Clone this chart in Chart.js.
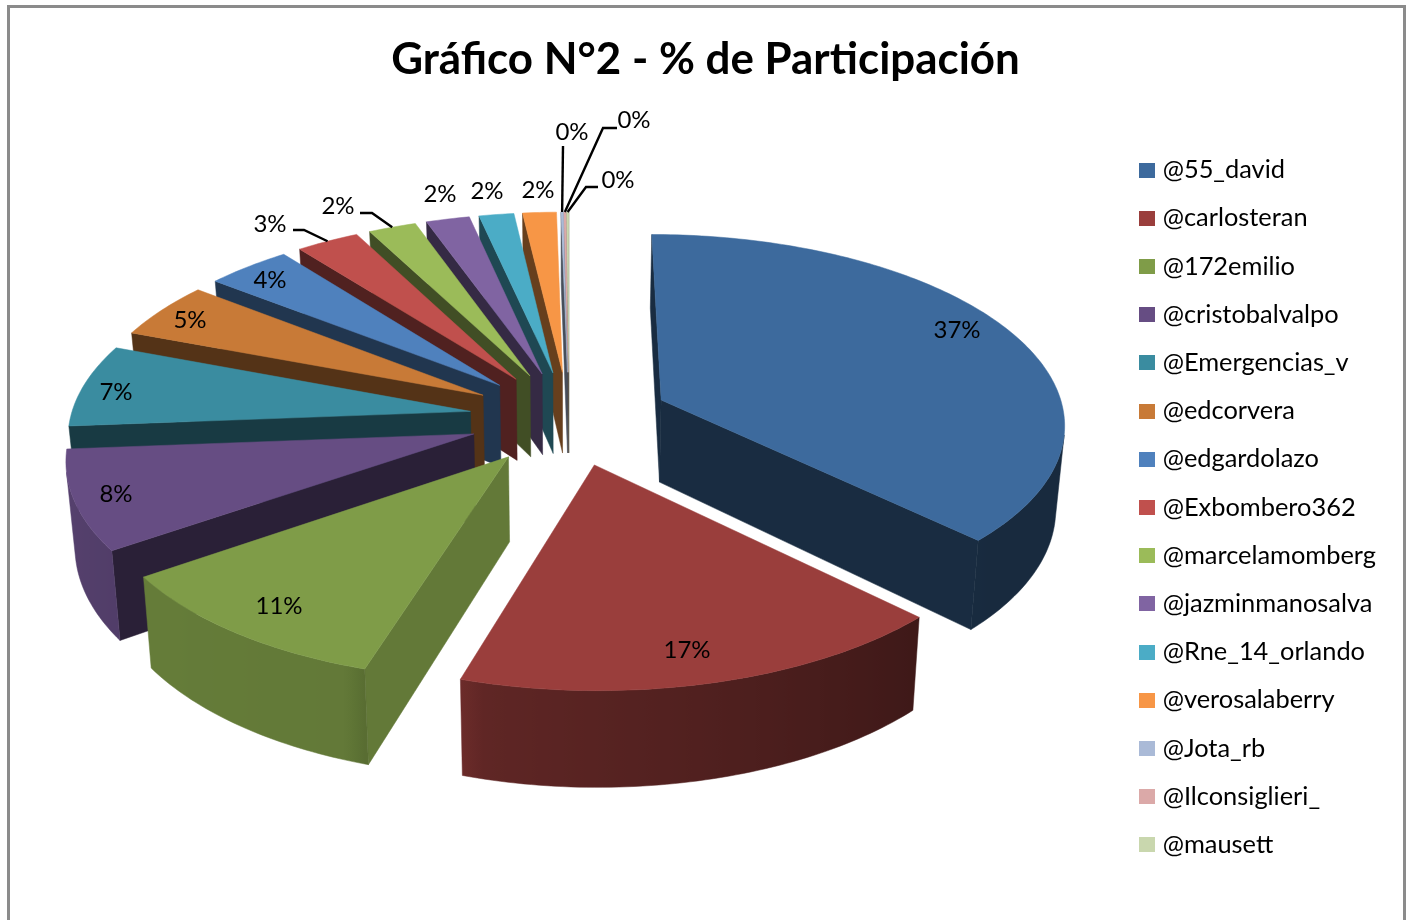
<!DOCTYPE html>
<html><head><meta charset="utf-8">
<style>html,body{margin:0;padding:0;background:#fff;overflow:hidden}canvas{display:block}</style>
<script src="https://cdn.jsdelivr.net/npm/chart.js@4"></script>
</head><body><canvas id="c" width="1410" height="920"></canvas>
<script>
const categories = ['@55_david','@carlosteran','@172emilio','@cristobalvalpo','@Emergencias_v','@edcorvera','@edgardolazo','@Exbombero362','@marcelamomberg','@jazminmanosalva','@Rne_14_orlando','@verosalaberry','@Jota_rb','@Ilconsiglieri_','@mausett'];
const shares = [37.4,17.4,10.6,8.4,7,4.8,3.9,2.9,2.2,2,1.6,1.55,0.1,0.1,0.1];
const colours = ['#3D6A9D','#9A3E3C','#7F9C48','#664D83','#3A8CA0','#C87A37','#4F81BD','#C0504D','#9BBB59','#8064A2','#4BACC6','#F79646','#AABAD7','#DBA9A8','#C9D7AE'];
const labelCentres = [[957,330],[687,650],[279,606],[116,494],[116,392],[190,320],[270,280],[270,224],[338,206],[440,194],[487,191],[538,190],[572,132],[634,120],[618,180]];
const leaders = {7:[[293,230],[304,230]],8:[[360,213],[372,213]],12:[[563,146]],13:[[617,128],[603,128]],14:[[598,187],[586,187]]};

const V = {cx:569, cy:418, a:404, left:0.99, b:188.3, c:0.1142, e:0.25, depth:83, shrink:0.982};
const project = (u,v,low) => {
  const w = 1 + V.c*v;
  let x = V.cx + (u<0?V.left:1)*V.a*u/w, y = V.cy - V.b*v/w;
  if (low) { x = V.cx + (x-V.cx)*V.shrink; y += V.depth/w; }
  return [x,y];
};
const knots = [[0,.4],[133,.4],[160,.5],[194,.62],[200,.78],[234,.8],[264,.86],[360,.86]];
const outerShade = d => {
  d = ((d%360)+360)%360;
  for (let i=1;i<knots.length;i++) if (d<=knots[i][0]) {
    const [a,p]=knots[i-1],[b,q]=knots[i];
    return p+(q-p)*(d-a)/(b-a);
  }
  return .86;
};
const shade = (hex,s) => {
  const n=parseInt(hex.slice(1),16);
  return `rgb(${((n>>16&255)*s)|0},${((n>>8&255)*s)|0},${((n&255)*s)|0})`;
};
const area = q => { let s=0; q.forEach((p,i)=>{const r=q[(i+1)%q.length]; s+=p[0]*r[1]-r[0]*p[1];}); return s/2; };
const fillPoly = (ctx,q,col) => {
  ctx.beginPath(); q.forEach((p,i)=>i?ctx.lineTo(p[0],p[1]):ctx.moveTo(p[0],p[1])); ctx.closePath();
  ctx.fillStyle=col; ctx.strokeStyle=col; ctx.lineWidth=.5; ctx.fill(); ctx.stroke();
};

const pie3d = {
  id:'pie3d',
  beforeDraw(chart){
    const {ctx}=chart; ctx.save();
    ctx.strokeStyle='#8b8b8b'; ctx.lineWidth=3;
    ctx.strokeRect(8.5,6.5,1396,1000);
    ctx.restore();
  },
  beforeDatasetDraw(chart,args){
    const {ctx}=chart, arcs=args.meta.data, geo=[];
    arcs.forEach((el,i)=>{
      const s=el.startAngle+Math.PI/2, t=el.endAngle+Math.PI/2, m=(s+t)/2;
      geo.push({i,s,t,m,tu:V.e*Math.sin(m),tv:V.e*Math.cos(m)});
    });
    const order=[...geo].sort((p,q)=>Math.cos(q.m)-Math.cos(p.m));
    ctx.save();
    for (const g of order){
      const col=colours[g.i], rim=[];
      const n=Math.max(2,Math.ceil((g.t-g.s)/(Math.PI/180)));
      for(let k=0;k<=n;k++){const a=g.s+(g.t-g.s)*k/n; rim.push([g.tu+Math.sin(a),g.tv+Math.cos(a),a]);}
      const tipT=project(g.tu,g.tv), tipB=project(g.tu,g.tv,true);
      const startDeg=g.s*180/Math.PI, lit=startDeg>90&&startDeg<215;
      const startFace=[tipT,project(rim[0][0],rim[0][1]),project(rim[0][0],rim[0][1],true),tipB];
      const endFace=[tipT,project(rim[n][0],rim[n][1]),project(rim[n][0],rim[n][1],true),tipB];
      if(area(startFace)<0) fillPoly(ctx,startFace,shade(col,lit?.78:.42));
      if(area(endFace)>0) fillPoly(ctx,endFace,shade(col,.42));
      const vis=[];
      for(let k=0;k<n;k++){
        const A=rim[k],B=rim[k+1];
        const q=[project(A[0],A[1]),project(B[0],B[1]),project(B[0],B[1],true),project(A[0],A[1],true)];
        if(area(q)<0) vis.push(k);
      }
      if(vis.length){
        const k0=vis[0],k1=vis[vis.length-1]+1, up=[],down=[];
        for(let k=k0;k<=k1;k++){up.push(project(rim[k][0],rim[k][1]));down.unshift(project(rim[k][0],rim[k][1],true));}
        const xs=up.concat(down).map(p=>p[0]), lo=Math.min(...xs), hi=Math.max(...xs)+.01;
        const gr=ctx.createLinearGradient(lo,0,hi,0);
        for(let k=k0;k<=k1;k++){
          gr.addColorStop(Math.min(1,Math.max(0,(project(rim[k][0],rim[k][1])[0]-lo)/(hi-lo))),shade(col,outerShade(rim[k][2]*180/Math.PI)));
        }
        fillPoly(ctx,up.concat(down),gr);
      }
      fillPoly(ctx,[tipT,...rim.map(p=>project(p[0],p[1]))],col);
    }
    ctx.restore();
    return false;
  },
  afterDatasetsDraw(chart){
    const {ctx}=chart, arcs=chart.getDatasetMeta(0).data;
    const total=shares.reduce((p,q)=>p+q,0);
    ctx.save();
    ctx.font='24px Lato'; ctx.fillStyle='#000'; ctx.textAlign='center'; ctx.textBaseline='middle';
    arcs.forEach((el,i)=>{
      ctx.fillText(Math.round(shares[i]/total*100)+'%',labelCentres[i][0],labelCentres[i][1]);
      if(leaders[i]){
        const m=(el.startAngle+el.endAngle)/2+Math.PI/2;
        const f=V.e+1, end=project(f*Math.sin(m),f*Math.cos(m));
        ctx.beginPath(); leaders[i].forEach((p,k)=>k?ctx.lineTo(p[0],p[1]):ctx.moveTo(p[0],p[1]));
        ctx.lineTo(end[0],end[1]); ctx.strokeStyle='#000'; ctx.lineWidth=2.4; ctx.stroke();
      }
    });
    ctx.restore();
  }
};
const swatch = col => { const c=document.createElement('canvas'); c.width=16;c.height=15; const x=c.getContext('2d'); x.fillStyle=col; x.fillRect(0,0,16,15); return c; };

new Chart(document.getElementById('c'),{
  type:'pie',
  data:{labels:categories,datasets:[{data:shares,backgroundColor:colours,borderWidth:0}]},
  plugins:[pie3d],
  options:{
    responsive:false,animation:false,rotation:0,
    layout:{padding:{left:25,right:24,bottom:-95,top:0}},
    plugins:{
      tooltip:{enabled:false},
      title:{display:true,text:'Gráfico N°2 - % de Participación',color:'#000',font:{family:'Lato',size:43.9,weight:'bold'},padding:{top:34,bottom:19}},
      legend:{position:'right',align:'center',labels:{color:'#000',font:{family:'Lato',size:25.4},padding:22.8,usePointStyle:true,pointStyleWidth:6,
        generateLabels:c=>categories.map((t,i)=>({text:t,pointStyle:swatch(colours[i]),fillStyle:colours[i],lineWidth:0,index:i,hidden:false}))}}
    }
  }
});
</script></body></html>
